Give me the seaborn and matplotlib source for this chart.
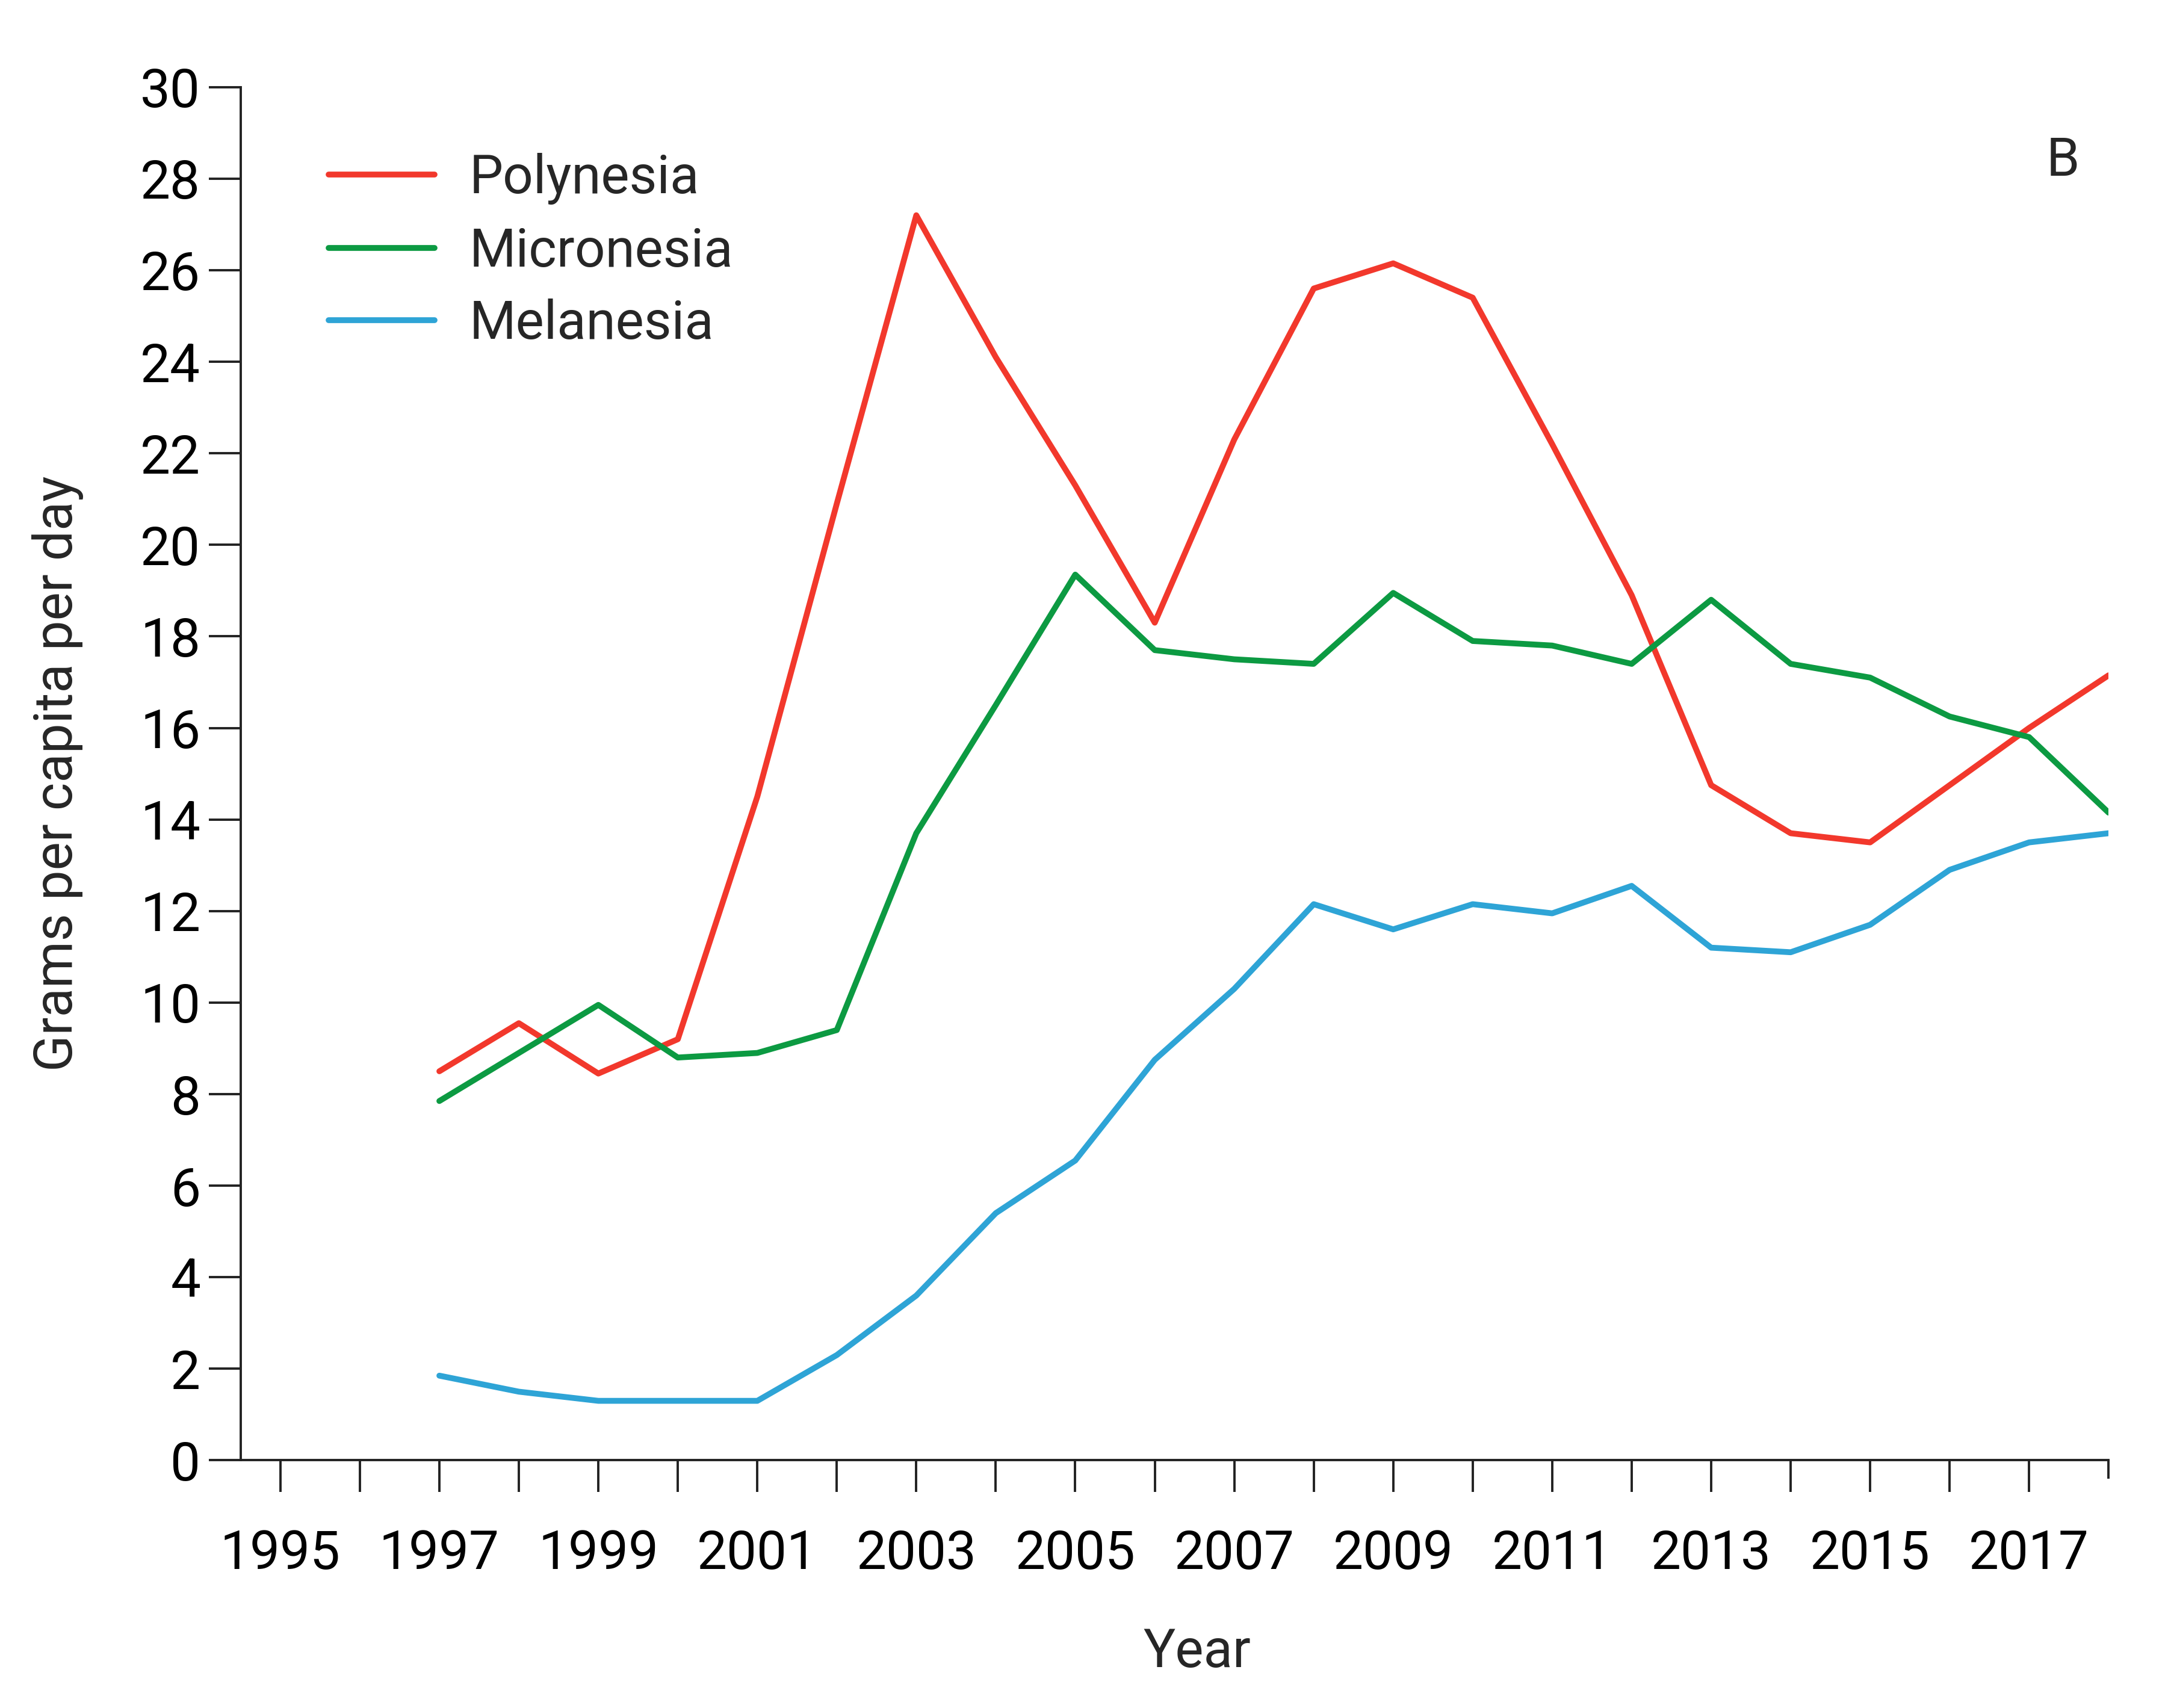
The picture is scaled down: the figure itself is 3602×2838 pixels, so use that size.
import pandas as pd
import seaborn as sns
import matplotlib.pyplot as plt

# values (grams per capita per day)
years = list(range(1997, 2019))
polynesia = [8.5, 9.55, 8.45, 9.2, 14.5, 20.9, 27.2, 24.1, 21.3, 18.3, 22.3,
             25.6, 26.15, 25.4, 22.2, 18.9, 14.75, 13.7, 13.5, 14.75, 16.0, 17.15]
micronesia = [7.85, 8.9, 9.95, 8.8, 8.9, 9.4, 13.7, 16.5, 19.35, 17.7, 17.5,
              17.4, 18.95, 17.9, 17.8, 17.4, 18.8, 17.4, 17.1, 16.25, 15.8, 14.15]
melanesia = [1.85, 1.5, 1.3, 1.3, 1.3, 2.3, 3.6, 5.4, 6.55, 8.75, 10.3,
             12.15, 11.6, 12.15, 11.95, 12.55, 11.2, 11.1, 11.7, 12.9, 13.5, 13.7]
regions = ["Polynesia", "Micronesia", "Melanesia"]
colors = {"Polynesia": "#f2382c", "Micronesia": "#0c9a42", "Melanesia": "#2ea4d6"}

df = pd.DataFrame({"Year": years, "Polynesia": polynesia,
                   "Micronesia": micronesia, "Melanesia": melanesia})
long_df = df.melt(id_vars="Year", var_name="Region", value_name="Grams")

sns.set_style("ticks")
plt.rcParams['font.family'] = ['Roboto', 'DejaVu Sans']
FS = 32

fig = plt.figure(figsize=(18.01, 14.19), dpi=200)
ax = fig.add_axes([0.111, 0.145, 0.8616, 0.804])

sns.lineplot(data=long_df, x="Year", y="Grams", hue="Region", hue_order=regions,
             palette=colors, linewidth=3.5, ax=ax)
for line in ax.lines:
    line.set_solid_capstyle("round")
    line.set_solid_joinstyle("round")

ax.set_xlim(1994.5, 2018)
ax.set_ylim(0, 30)
ax.set_yticks(range(0, 31, 2))
ax.set_xticks(range(1995, 2018))
ax.set_xticklabels([str(y) if y % 2 == 1 else "" for y in range(1995, 2018)])
ax.set_xticks([2018], minor=True)

for side in ["top", "right"]:
    ax.spines[side].set_visible(False)
for side in ["left", "bottom"]:
    ax.spines[side].set_linewidth(1.4)
    ax.spines[side].set_color("#222222")

ax.tick_params(axis="x", which="major", length=19, width=1.4, direction="out",
               pad=22, labelsize=FS, colors="#222222", labelcolor="black")
ax.tick_params(axis="x", which="minor", length=11, width=1.4, direction="out",
               colors="#222222")
ax.tick_params(axis="y", length=19, width=1.4, direction="out", pad=5,
               labelsize=FS, colors="#222222", labelcolor="black")

ax.set_xlabel("Year", fontsize=FS, labelpad=28)
ax.xaxis.label.set_x(0.512)
ax.set_ylabel("Grams per capita per day", fontsize=FS, labelpad=34)

handles, labels = ax.get_legend_handles_labels()
for h in handles:
    h.set_linewidth(3.5)
    h.set_solid_capstyle("round")
ax.legend(handles, labels, loc="upper left", bbox_to_anchor=(0.047, 0.952),
          frameon=False, fontsize=FS, handlelength=1.98, handletextpad=0.65,
          labelspacing=0.4, borderpad=0, borderaxespad=0)

ax.text(0.9756, 0.946, "B", transform=ax.transAxes, fontsize=FS,
        ha="center", va="center")

fig.savefig("out.png", dpi=200)
